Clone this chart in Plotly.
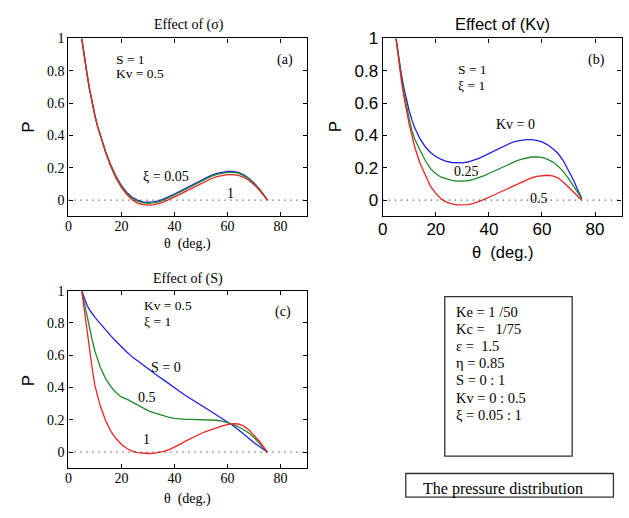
import plotly.graph_objects as go

# ---------------- data ----------------
THETA = [5, 6, 7, 8, 9, 10, 11, 12, 14, 16, 18, 20, 22, 24, 26, 28, 30, 32, 34, 36,
         38, 40, 42, 44, 46, 48, 50, 52, 54, 56, 58, 60, 62, 64, 66, 68, 70, 72, 74, 75]

# Panel (a): effect of xi (S = 1, Kv = 0.5)
A_XI_005 = [1.0, 0.88, 0.78, 0.68, 0.595, 0.52, 0.455, 0.40, 0.30, 0.215, 0.145, 0.09, 0.048, 0.018,
            0.0, -0.01, -0.013, -0.011, -0.004, 0.008, 0.022, 0.038, 0.055, 0.072, 0.09, 0.108,
            0.126, 0.142, 0.155, 0.166, 0.174, 0.178, 0.178, 0.172, 0.158, 0.136, 0.106, 0.07, 0.025, 0.0]
A_XI_MID = [1.0, 0.88, 0.78, 0.68, 0.595, 0.52, 0.455, 0.40, 0.298, 0.212, 0.141, 0.085, 0.043, 0.012,
            -0.006, -0.016, -0.019, -0.017, -0.01, 0.002, 0.016, 0.032, 0.049, 0.066, 0.084, 0.102,
            0.12, 0.136, 0.149, 0.16, 0.168, 0.172, 0.172, 0.167, 0.153, 0.132, 0.103, 0.068, 0.024, 0.0]
A_XI_1 = [1.0, 0.88, 0.78, 0.68, 0.595, 0.52, 0.455, 0.40, 0.295, 0.207, 0.135, 0.077, 0.034, 0.002,
          -0.018, -0.028, -0.031, -0.029, -0.022, -0.01, 0.004, 0.019, 0.036, 0.053, 0.07, 0.088,
          0.105, 0.12, 0.134, 0.145, 0.153, 0.158, 0.158, 0.154, 0.142, 0.123, 0.096, 0.063, 0.022, 0.0]

# Panel (b): effect of Kv (S = 1, xi = 1)
B_KV_0 = [1.0, 0.88, 0.78, 0.69, 0.615, 0.55, 0.495, 0.45, 0.38, 0.33, 0.295, 0.27, 0.252, 0.24,
          0.233, 0.23, 0.231, 0.236, 0.245, 0.257, 0.272, 0.288, 0.305, 0.322, 0.338, 0.352,
          0.363, 0.371, 0.375, 0.375, 0.37, 0.36, 0.344, 0.32, 0.29, 0.245, 0.185, 0.12, 0.045, 0.01]
B_KV_025 = [1.0, 0.87, 0.76, 0.66, 0.575, 0.50, 0.43, 0.38, 0.31, 0.245, 0.195, 0.163, 0.142, 0.13,
            0.122, 0.118, 0.117, 0.12, 0.127, 0.137, 0.15, 0.165, 0.18, 0.196, 0.212, 0.227,
            0.24, 0.252, 0.261, 0.267, 0.268, 0.264, 0.254, 0.237, 0.212, 0.178, 0.135, 0.088, 0.033, 0.01]
B_KV_05 = [1.0, 0.86, 0.74, 0.635, 0.545, 0.465, 0.40, 0.33, 0.23, 0.155, 0.085, 0.042, 0.008, -0.012,
           -0.023, -0.029, -0.03, -0.028, -0.021, -0.01, 0.003, 0.018, 0.033, 0.049, 0.065, 0.081,
           0.097, 0.112, 0.126, 0.138, 0.147, 0.152, 0.154, 0.15, 0.138, 0.112, 0.082, 0.05, 0.016, 0.0]

# Panel (c): effect of S (Kv = 0.5, xi = 1)
C_S_0 = [1.0, 0.95, 0.91, 0.88, 0.855, 0.835, 0.815, 0.795, 0.755, 0.72, 0.685, 0.65, 0.62, 0.59,
         0.565, 0.54, 0.515, 0.49, 0.468, 0.446, 0.424, 0.402, 0.375, 0.352, 0.33, 0.31,
         0.29, 0.27, 0.25, 0.23, 0.21, 0.19, 0.165, 0.14, 0.115, 0.085, 0.058, 0.033, 0.009, 0.0]
C_S_05 = [1.0, 0.92, 0.84, 0.76, 0.69, 0.625, 0.57, 0.525, 0.455, 0.405, 0.368, 0.34, 0.328, 0.31,
          0.29, 0.272, 0.257, 0.244, 0.233, 0.225, 0.215, 0.209, 0.205, 0.203, 0.202, 0.201,
          0.2, 0.2, 0.199, 0.197, 0.192, 0.183, 0.172, 0.158, 0.14, 0.118, 0.09, 0.055, 0.018, 0.0]
C_S_1 = [1.0, 0.87, 0.76, 0.62, 0.51, 0.41, 0.34, 0.285, 0.195, 0.128, 0.082, 0.047, 0.022, 0.006,
         -0.003, -0.007, -0.009, -0.008, -0.004, 0.004, 0.015, 0.03, 0.048, 0.066, 0.084, 0.1,
         0.115, 0.128, 0.14, 0.152, 0.162, 0.17, 0.176, 0.174, 0.162, 0.138, 0.105, 0.067, 0.022, 0.0]

X_TICKS = [0, 20, 40, 60, 80]
X_TICKTEXT = ["0", "20", "40", "60", "80"]
Y_TICKS = [0, 0.2, 0.4, 0.6, 0.8, 1]
Y_TICKTEXT = ["0", "0.2", "0.4", "0.6", "0.8", "1"]

TEXTBOX_LINES = ["Ke = 1 /50", "Kc =   1/75", "ε =  1.5", "η = 0.85", "S = 0 : 1", "Kv = 0 : 0.5", "ξ = 0.05 : 1"]
CAPTION = "The pressure distribution"

# ---------------- styling helpers ----------------
W, H = 629, 518
SERIF = "Liberation Serif"
SANS = "Liberation Sans"
BLUE, GREEN, RED = "#1f1fe6", "#1f8a2a", "#ee2222"


def px(x):
    return x / W


def py(y):
    return 1 - y / H


fig = go.Figure()

panels = [
    ("x", "y", [(A_XI_005, BLUE), (A_XI_MID, GREEN), (A_XI_1, RED)]),
    ("x2", "y2", [(B_KV_0, BLUE), (B_KV_025, GREEN), (B_KV_05, RED)]),
    ("x3", "y3", [(C_S_0, BLUE), (C_S_05, GREEN), (C_S_1, RED)]),
]
for xa, ya, series in panels:
    for vals, col in series:
        fig.add_trace(go.Scatter(x=THETA, y=vals, mode="lines", xaxis=xa, yaxis=ya,
                                 line=dict(color=col, width=1.3), showlegend=False,
                                 hoverinfo="skip"))


def xaxis(domain, font):
    return dict(domain=domain, range=[0, 90], tickvals=X_TICKS, ticktext=X_TICKTEXT,
                ticks="inside", ticklen=4, tickwidth=1, tickcolor="black",
                mirror="allticks", showline=True, linecolor="black", linewidth=1.3,
                showgrid=False, zeroline=False, tickfont=font, ticklabelstandoff=-3)


def yaxis(domain, font, anchor):
    return dict(domain=domain, range=[-0.1, 1], tickvals=Y_TICKS, ticktext=Y_TICKTEXT,
                ticks="inside", ticklen=4, tickwidth=1, tickcolor="black",
                mirror="allticks", showline=True, linecolor="black", linewidth=1.3,
                showgrid=False, zeroline=False, tickfont=font, anchor=anchor)


serif_tick = dict(family=SERIF, size=14, color="black")
sans_tick = dict(family=SANS, size=17, color="black")

dom_a_x = [px(64), px(304.5)]
dom_b_x = [px(380.8), px(621.5)]
dom_top_y = [py(211), py(30)]
dom_c_y = [py(467.3), py(286.7)]

fig.update_layout(
    width=W, height=H, margin=dict(l=0, r=0, t=0, b=0),
    paper_bgcolor="white", plot_bgcolor="white", showlegend=False,
    xaxis=dict(**xaxis(dom_a_x, serif_tick), anchor="y"),
    yaxis=yaxis(dom_top_y, serif_tick, "x"),
    xaxis2=dict(**xaxis(dom_b_x, sans_tick), anchor="y2"),
    yaxis2=yaxis(dom_top_y, sans_tick, "x2"),
    xaxis3=dict(**xaxis(dom_a_x, serif_tick), anchor="y3"),
    yaxis3=yaxis(dom_c_y, serif_tick, "x3"),
)

# dotted zero lines
for xr, yr in [("x domain", "y"), ("x2 domain", "y2"), ("x3 domain", "y3")]:
    fig.add_shape(type="line", xref=xr, yref=yr, x0=0, x1=1, y0=0, y1=0,
                  line=dict(color="#333333", width=1.2, dash="1px,5px"))

# info boxes
fig.add_shape(type="rect", xref="paper", yref="paper",
              x0=px(443.3), x1=px(571.7), y0=py(455), y1=py(292.7),
              line=dict(color="#333333", width=1.3))
fig.add_shape(type="rect", xref="paper", yref="paper",
              x0=px(404), x1=px(613.3), y0=py(496.7), y1=py(472.7),
              line=dict(color="#333333", width=1.3))


def ann(text, x, y, family=SERIF, size=14, xanchor="center", angle=0):
    fig.add_annotation(text=text, x=px(x), y=py(y), xref="paper", yref="paper",
                       showarrow=False, xanchor=xanchor, yanchor="middle",
                       textangle=angle, font=dict(family=family, size=size, color="black"))


# titles
ann("Effect of (σ)", 185, 16, size=14)
ann("Effect of (Kv)", 501, 15, family=SANS, size=16.5)
ann("Effect of (S)", 184, 275, size=14)

# axis labels
ann("P", 24, 120, family=SANS, size=17, angle=-90)
ann("P", 334, 120, family=SANS, size=17, angle=-90)
ann("P", 24, 378, family=SANS, size=17, angle=-90)
ann("θ  (deg.)", 184, 239, size=14)
ann("θ  (deg.)", 501.5, 247, family=SANS, size=16.5)
ann("θ  (deg.)", 184, 499, size=14)

# panel (a) labels
ann("S = 1", 110, 51, size=13.5, xanchor="left")
ann("Kv = 0.5", 110, 66, size=13.5, xanchor="left")
ann("(a)", 282, 52)
ann("ξ = 0.05", 162, 170)
ann("1", 227, 188)

# panel (b) labels
ann("S = 1", 455, 62, size=13.5, xanchor="left")
ann("ξ = 1", 455, 78, size=13.5, xanchor="left")
ann("(b)", 596, 52)
ann("Kv = 0", 515, 118)
ann("0.25", 465, 165)
ann("0.5", 538, 193)

# panel (c) labels
ann("Kv = 0.5", 138, 302, size=13.5, xanchor="left")
ann("ξ = 1", 138, 318, size=13.5, xanchor="left")
ann("(c)", 280, 308)
ann("S = 0", 162, 365)
ann("0.5", 143, 395)
ann("1", 143, 438)

# parameter box text
for i, line in enumerate(TEXTBOX_LINES):
    ann(line, 453, 308 + i * 17.5, size=14.5, xanchor="left")

ann(CAPTION, 502, 488, size=16)

fig.write_html("out.html")
